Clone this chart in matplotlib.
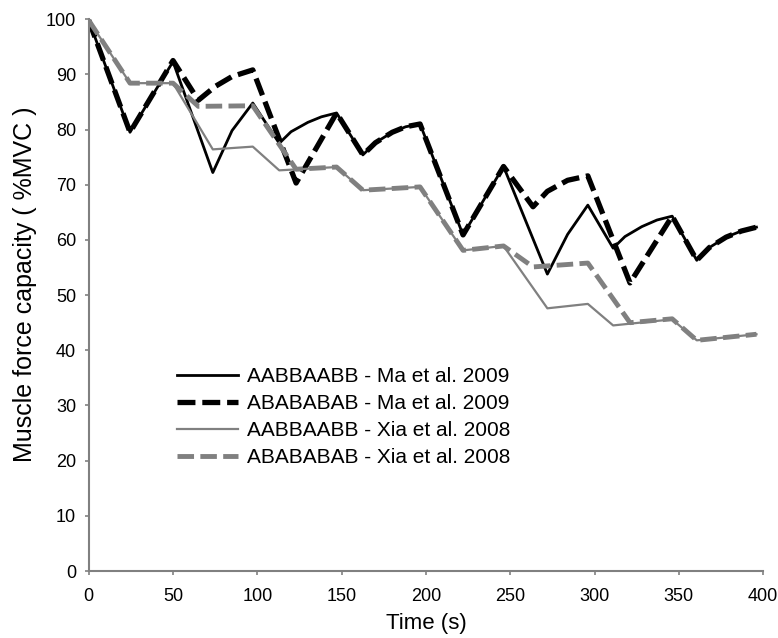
import matplotlib.pyplot as plt

plt.rcParams['font.family'] = ['Liberation Sans', 'DejaVu Sans']

# Ma et al. 2009, AABBAABB
t_ma_aabb = [0, 24.5, 50, 73.6, 85, 97.3, 113, 120, 130, 138, 147, 162.6, 170, 180, 188,
             196.5, 222, 246, 272, 284, 296, 311, 318, 328, 337, 346, 360.6, 368, 378,
             387, 396]
f_ma_aabb = [99.8, 79.5, 92.3, 72.2, 79.8, 84.8, 77.5, 79.6, 81.3, 82.3, 83.0, 75.4, 77.6,
             79.5, 80.5, 81.0, 60.9, 73.3, 53.8, 61.0, 66.3, 58.5, 60.6, 62.4, 63.6, 64.3,
             56.3, 58.6, 60.5, 61.6, 62.3]

# Ma et al. 2009, ABABABAB
t_ma_abab = [0, 24.5, 50, 65, 75, 85, 97.3, 123, 147, 162.6, 170, 180, 188, 196.5,
             222, 246, 263.5, 272, 284, 296, 321, 346, 360.6, 368, 378, 387, 396]
f_ma_abab = [99.8, 79.5, 92.5, 85.3, 87.8, 89.6, 90.8, 70.3, 83.0, 75.4, 77.6, 79.5, 80.5,
             81.0, 60.9, 73.3, 66.0, 68.8, 70.8, 71.6, 52.2, 64.3, 56.3, 58.6, 60.5, 61.6,
             62.3]

# Xia et al. 2008, AABBAABB
t_xia_aabb = [0, 24.5, 50, 73.6, 97.3, 113, 147, 162.6, 196.5, 222, 246, 272, 296,
              311, 346, 360.6, 396]
f_xia_aabb = [99.8, 88.4, 88.4, 76.4, 76.9, 72.6, 73.2, 69.0, 69.6, 58.1, 58.9, 47.6, 48.4,
              44.5, 45.6, 41.8, 42.9]

# Xia et al. 2008, ABABABAB
t_xia_abab = [0, 24.5, 50, 65, 97.3, 123, 147, 162.6, 196.5, 222, 246, 263.5, 296,
              321, 346, 360.6, 396]
f_xia_abab = [99.8, 88.4, 88.4, 84.2, 84.3, 72.8, 73.2, 69.0, 69.6, 58.1, 58.9, 55.1, 55.8,
              45.0, 45.7, 41.8, 42.9]

labels = ['AABBAABB - Ma et al. 2009', 'ABABABAB - Ma et al. 2009',
          'AABBAABB - Xia et al. 2008', 'ABABABAB - Xia et al. 2008']

fig = plt.figure(figsize=(7.78, 6.38), dpi=100)
ax = fig.add_axes([0.114, 0.105, 0.867, 0.865])

gray = '#808080'
dash = (0, (3.4, 1.3))
ax.plot(t_ma_aabb, f_ma_aabb, color='black', lw=2.0, label=labels[0])
ax.plot(t_ma_abab, f_ma_abab, color='black', lw=3.8, ls=dash, label=labels[1])
ax.plot(t_xia_aabb, f_xia_aabb, color=gray, lw=1.6, label=labels[2])
ax.plot(t_xia_abab, f_xia_abab, color=gray, lw=3.5, ls=dash, label=labels[3])

ax.set_xlim(0, 400)
ax.set_ylim(0, 100)
ax.set_xticks(range(0, 401, 50))
ax.set_yticks(range(0, 101, 10))
ax.tick_params(labelsize=13, length=3, color=gray, width=1.2)
ax.tick_params(axis='x', pad=9)
ax.tick_params(axis='y', pad=6)

for side in ['top', 'right']:
    ax.spines[side].set_visible(False)
for side in ['left', 'bottom']:
    ax.spines[side].set_color(gray)
    ax.spines[side].set_linewidth(1.5)

ax.set_xlabel('Time (s)', fontsize=16, labelpad=6)
ax.set_ylabel('Muscle force capacity ( %MVC )', fontsize=18)
ax.yaxis.set_label_coords(-0.077, 0.52)

ax.legend(loc='center left', bbox_to_anchor=(0.119, 0.279), borderaxespad=0,
          frameon=False, fontsize=15, handlelength=2.93, handletextpad=0.43,
          labelspacing=0.39)

plt.savefig('out.png', dpi=100)
